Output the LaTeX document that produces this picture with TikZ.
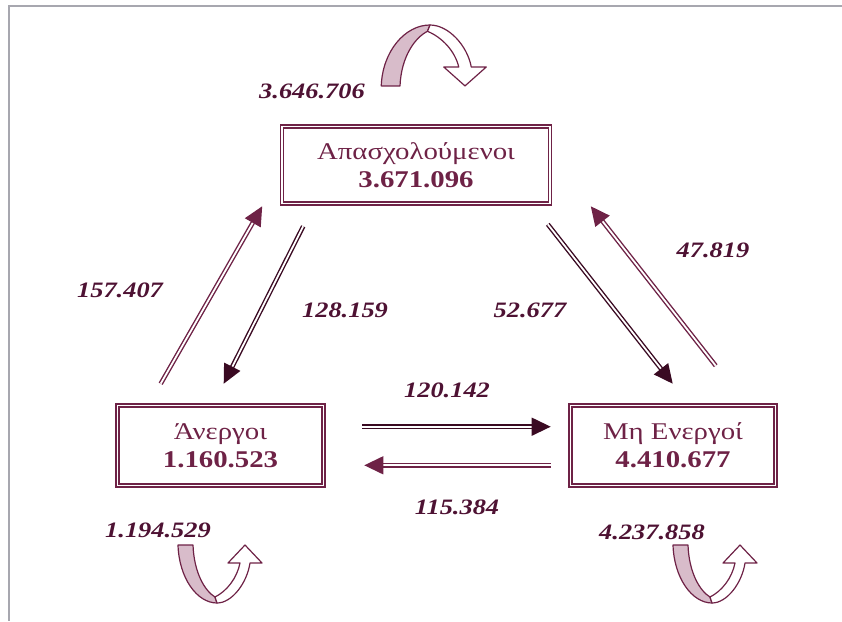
\documentclass[tikz,border=0pt]{standalone}
\usepackage{fontspec}
\setmainfont{Liberation Serif}[FakeStretch=1.2]
\usetikzlibrary{arrows.meta}
\definecolor{frame}{HTML}{A7A7AF}
\definecolor{plum}{HTML}{6E2246}
\definecolor{darkplum}{HTML}{3A0A22}
\definecolor{ribbon}{HTML}{D8BCCA}
\definecolor{figure}{HTML}{4E1233}

\tikzset{
  state/.style={draw=plum, line width=1.6pt, double=white, double distance=1.6pt,
    align=center, text=plum, font=\fontsize{24}{28}\selectfont, inner sep=0pt},
  flowup/.style={draw=plum, line width=1.4pt, double=white, double distance=1.8pt,
    -{Triangle[length=19pt,width=18pt]}},
  flowdown/.style={flowup, draw=darkplum},
  count/.style={text=figure, font=\fontsize{22}{24}\selectfont\bfseries\itshape},
}

% U-turn ribbon arrow, drawn round (0,0)
\newcommand{\turnarrow}{%
  \filldraw[fill=ribbon, draw=plum, line width=1.2pt, line join=round]
    (-39,58) .. controls (-38,25) and (-20,0) .. (0,0) -- (-2,6)
    .. controls (-12,12) and (-23,30) .. (-24,58) -- cycle;
  \filldraw[fill=white, draw=plum, line width=1.2pt, line join=round]
    (0,0) .. controls (15,0) and (30,20) .. (33,40) -- (45,40) -- (28,58)
    -- (11,40) -- (23,40) .. controls (20,25) and (10,12) .. (-2,6) -- cycle;
}

\begin{document}
\begin{tikzpicture}[x=1pt, y=-1pt]
  \useasboundingbox (0,0) rectangle (842,621);
  \draw[frame, line width=2pt] (842,6) -- (9,6) -- (9,621);

  \node[state, minimum width=268, minimum height=77] (emp) at (416,165)
    {Απασχολούμενοι\\ \textbf{3.671.096}};
  \node[state, minimum width=206, minimum height=80] (une) at (220.5,445.5)
    {Άνεργοι\\ \textbf{1.160.523}};
  \node[state, minimum width=205, minimum height=80] (nea) at (673,445.5)
    {Μη Ενεργοί\\ \textbf{4.410.677}};

  % flows between the states
  \draw[flowup] ([shift={(44,-21)}]une.north west) -- ([shift={(-19,2)}]emp.south west);
  \draw[flowdown] ([shift={(22,22)}]emp.south west) -- ([shift={(107,-21)}]une.north west);
  \draw[flowdown] ([shift={(-3,20)}]emp.south east) -- ([shift={(103,-21)}]nea.north west);
  \draw[flowup] ([shift={(146,-39)}]nea.north west) -- ([shift={(40,2)}]emp.south east);
  \draw[flowdown] ([shift={(38,22)}]une.north east) -- ([shift={(-19,22)}]nea.north west);
  \draw[flowup] ([shift={(-19,-21)}]nea.south west) -- ([shift={(40,-21)}]une.south east);

  \node[count] (c1) at (120,290) {157.407};
  \node[count] (c2) at (345,310) {128.159};
  \node[count] (c3) at (530,310) {52.677};
  \node[count] (c4) at (713,250) {47.819};
  \node[count] (c5) at (447,390) {120.142};
  \node[count] (c6) at (457,507) {115.384};

  % staying in the same state
  \begin{scope}[shift={(430,25)}, xscale=1.25, yscale=1.05]
    \turnarrow
  \end{scope}
  \begin{scope}[shift={(217,603)}, yscale=-1]
    \turnarrow
  \end{scope}
  \begin{scope}[shift={(712,603)}, yscale=-1]
    \turnarrow
  \end{scope}
  \node[count] (s1) at (312,91) {3.646.706};
  \node[count] (s2) at (158,530) {1.194.529};
  \node[count] (s3) at (652,532) {4.237.858};
\end{tikzpicture}
\end{document}
